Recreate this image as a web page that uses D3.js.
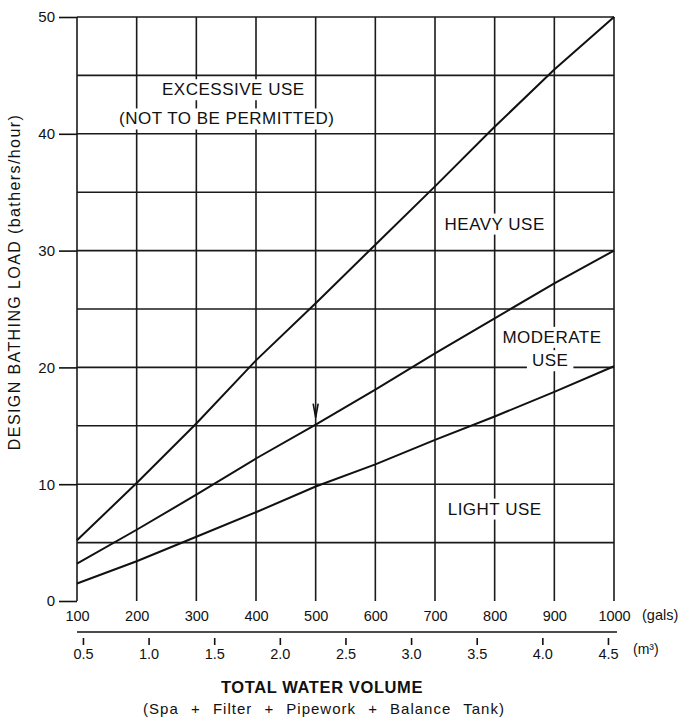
<!DOCTYPE html>
<html>
<head>
<meta charset="utf-8">
<script src="https://cdn.jsdelivr.net/npm/d3@7"></script>
<style>
    body { margin: 0; background: #fff; }
    text { font-family: "Liberation Sans", Arial, sans-serif; fill: #111; }
    .axis .domain { stroke: #111; stroke-width: 1.6px; }
    .axis line { stroke: #111; stroke-width: 1.6px; }
    .axis text { font-size: 14.5px; }
    .zone { font-size: 17px; letter-spacing: 0.5px; }
</style>
</head>
<body>
<svg id="chart"></svg>
<script>
// volume in gallons (bottom scale) and matching m3 tick labels
const galTicks = [100, 200, 300, 400, 500, 600, 700, 800, 900, 1000];
const m3Ticks = [0.5, 1.0, 1.5, 2.0, 2.5, 3.0, 3.5, 4.0, 4.5];
const loadTicks = [0, 10, 20, 30, 40, 50];
const gridLoad = [5, 10, 15, 20, 25, 30, 35, 40, 45, 50];

// boundary lines, bathers/hour read at each 100 gals
const volumeGal = [100, 200, 300, 400, 500, 600, 700, 800, 900, 1000];
const heavyLimit = [5.2, 10.1, 15.2, 20.6, 25.5, 30.5, 35.5, 40.6, 45.5, 50.0];
const moderateLimit = [3.2, 6.1, 9.1, 12.2, 15.1, 18.1, 21.2, 24.2, 27.2, 30.0];
const lightLimit = [1.5, 3.4, 5.5, 7.6, 9.8, 11.7, 13.8, 15.8, 17.9, 20.1];

const zoneNames = ["EXCESSIVE USE", "(NOT TO BE PERMITTED)", "HEAVY USE", "MODERATE", "USE", "LIGHT USE"];
const zoneGal = [362, 351, 800, 896, 893, 800];
const zoneLoad = [43.3, 40.8, 31.8, 22.1, 20.1, 7.4];

const GAL_TO_M3 = 0.004546;

const config = {
    width: 682, height: 719,
    margin: {top: 17, right: 68, bottom: 118, left: 77}
};

const svg = d3.select("#chart")
    .attr("width", config.width)
    .attr("height", config.height);

const width = config.width - config.margin.left - config.margin.right;
const height = config.height - config.margin.top - config.margin.bottom;

const chart = svg.append("g")
    .attr("transform", `translate(${config.margin.left},${config.margin.top})`);

const xScale = d3.scaleLinear().domain([100, 1000]).range([0, width]);
const xM3 = d3.scaleLinear().domain([100 * GAL_TO_M3, 1000 * GAL_TO_M3]).range([0, width]);
const yScale = d3.scaleLinear().domain([0, 50]).range([height, 0]);

// grid
const gridG = chart.append("g").attr("stroke", "#1a1a1a").attr("stroke-width", 1.6);
gridG.selectAll(".vgrid").data(galTicks).join("line")
    .attr("x1", d => xScale(d)).attr("x2", d => xScale(d))
    .attr("y1", 0).attr("y2", height);
gridG.selectAll(".hgrid").data(gridLoad).join("line")
    .attr("x1", 0).attr("x2", width)
    .attr("y1", d => yScale(d)).attr("y2", d => yScale(d));

// zone labels with white boxes knocking out the grid
const labelsG = chart.append("g");
const labels = labelsG.selectAll("text").data(zoneNames).join("text")
    .attr("class", "zone")
    .attr("text-anchor", "middle")
    .attr("x", (d, i) => xScale(zoneGal[i]))
    .attr("y", (d, i) => yScale(zoneLoad[i]))
    .text(d => d);
labels.each(function() {
    const b = this.getBBox();
    labelsG.insert("rect", "text")
        .attr("x", b.x - 5).attr("y", b.y - 1)
        .attr("width", b.width + 10).attr("height", b.height + 2)
        .attr("fill", "#fff");
});

// boundary lines
const line = d3.line()
    .x((d, i) => xScale(volumeGal[i]))
    .y(d => yScale(d));
chart.selectAll(".limit").data([heavyLimit, moderateLimit, lightLimit]).join("path")
    .attr("class", "limit")
    .attr("fill", "none")
    .attr("stroke", "#111")
    .attr("stroke-width", 2)
    .attr("d", line);

// small arrow at 500 gals
chart.append("path")
    .attr("d", `M${xScale(500) - 2.5},${yScale(16.9)} L${xScale(500)},${yScale(15.7)} L${xScale(500) + 2.5},${yScale(16.9)}`)
    .attr("fill", "none").attr("stroke", "#111").attr("stroke-width", 1.6);

// left axis
const yAxisG = chart.append("g").attr("class", "axis")
    .call(d3.axisLeft(yScale).tickValues(loadTicks).tickSize(18).tickPadding(4));
yAxisG.select(".domain").remove();
yAxisG.selectAll("text").style("font-size", "15px");

// bottom gallons axis
const xAxisG = chart.append("g").attr("class", "axis")
    .attr("transform", `translate(0,${height})`)
    .call(d3.axisBottom(xScale).tickValues(galTicks).tickFormat(d3.format("d"))
        .tickSize(0).tickPadding(10));
xAxisG.select(".domain").remove();

// m3 axis
const mAxisG = chart.append("g").attr("class", "axis")
    .attr("transform", `translate(0,${height + 31})`)
    .call(d3.axisBottom(xM3).tickValues(m3Ticks).tickFormat(d3.format(".1f"))
        .tickSizeInner(0).tickSizeOuter(0).tickPadding(17));
mAxisG.select(".domain").attr("d", `M0,0H${width + 3}`);
mAxisG.selectAll(".tick line").attr("y1", 6).attr("y2", 13).attr("stroke-width", 1.2);

chart.append("text")
    .attr("x", width + 28).attr("y", height + 19)
    .style("font-size", "14.5px")
    .text("(gals)");
chart.append("text")
    .attr("x", width + 19).attr("y", height + 53)
    .style("font-size", "14px")
    .text("(m³)");

// titles
svg.append("text")
    .attr("x", 322).attr("y", 693)
    .attr("text-anchor", "middle")
    .style("font-size", "16.5px").style("font-weight", "bold").style("letter-spacing", "0.6px")
    .text("TOTAL WATER VOLUME");
svg.append("text")
    .attr("x", 324).attr("y", 714)
    .attr("text-anchor", "middle")
    .style("font-size", "15px").style("letter-spacing", "1px").style("word-spacing", "7px")
    .text("(Spa + Filter + Pipework + Balance Tank)");

svg.append("text")
    .attr("transform", "translate(20,282) rotate(-90)")
    .attr("text-anchor", "middle")
    .style("font-size", "16px").style("letter-spacing", "1.4px")
    .text("DESIGN BATHING LOAD (bathers/hour)");
</script>
</body>
</html>
